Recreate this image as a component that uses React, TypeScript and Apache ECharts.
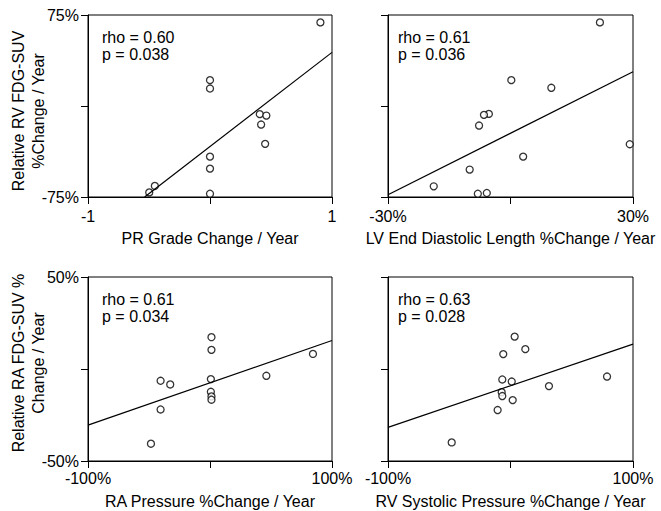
import React, { useEffect, useRef } from "react";
import * as echarts from "echarts";

// Panel A: PR grade change vs relative RV FDG-SUV change
const prGrade = [0.905, 0, 0, 0, 0, 0, -0.452, -0.498, 0.408, 0.462, 0.419, 0.452];
const rvSuvA = [68.9, 21.3, 14.4, -41.7, -51.6, -72.3, -65.9, -71.2, -6.7, -7.9, -15.3, -31.2];
const fitA = [[-0.536, -75], [1, 44.2]];

// Panel B: LV end diastolic length change vs relative RV FDG-SUV change
const lvLength = [21.9, 0.2, 10.0, -5.3, -6.5, -7.7, 29.2, 3.1, -10, -18.8, -8.0, -5.8];
const rvSuvB = [68.9, 21.3, 15.0, -6.5, -7.3, -16.1, -31.5, -41.7, -52.4, -66.2, -72.3, -71.7];
const fitB = [[-30, -73.1], [30, 28.2]];

// Panel C: RA pressure change vs relative RA FDG-SUV change
const raPressure = [1.2, 1.2, 0.7, 0.7, 1.2, 1.2, -40.5, -32.6, -40.5, -48.4, 46.2, 84.4];
const raSuvC = [17.3, 10.4, -5.5, -12.4, -14.9, -16.7, -6.4, -8.4, -22.0, -40.6, -3.7, 8.2];
const fitC = [[-100, -30.5], [100, 15.5]];

// Panel D: RV systolic pressure change vs relative RA FDG-SUV change
const rvSys = [3.4, 12.1, -5.9, -6.7, 1.0, -7.2, -6.7, 1.8, -10.5, -48.0, 31.4, 78.8];
const raSuvD = [17.6, 10.8, 8.1, -5.7, -6.8, -12.6, -14.7, -16.9, -22.3, -39.9, -9.3, -4.1];
const fitD = [[-100, -31.7], [100, 13.5]];

const rhoValues = ["0.60", "0.61", "0.61", "0.63"];
const pValues = ["0.038", "0.036", "0.034", "0.028"];

const xTitles = [
  "PR Grade Change / Year",
  "LV End Diastolic Length %Change / Year",
  "RA Pressure %Change / Year",
  "RV Systolic Pressure %Change / Year",
];
const yTitles = ["Relative RV FDG-SUV\n%Change / Year", "Relative RA FDG-SUV %\nChange / Year"];

const xRanges = [[-1, 1], [-30, 30], [-100, 100], [-100, 100]];
const yRanges = [[-75, 75], [-75, 75], [-50, 50], [-50, 50]];
const xUnits = ["", "%", "%", "%"];
const showYLabels = [true, false, true, false];

const FONT = '"Liberation Sans", Arial, sans-serif';

export default function App() {
  const ref = useRef<HTMLDivElement>(null);
  useEffect(() => {
    if (!ref.current) return;
    const chart = echarts.init(ref.current, null, { renderer: "svg" });

    const grids = [
      { left: 88, top: 15, width: 244, height: 182 },
      { left: 388, top: 15, width: 245, height: 182 },
      { left: 88, top: 277, width: 244, height: 184 },
      { left: 388, top: 277, width: 245, height: 184 },
    ].map((g) => ({ ...g, show: true, borderColor: "#000", borderWidth: 1, backgroundColor: "transparent" }));

    const points = [
      prGrade.map((x, i) => [x, rvSuvA[i]]),
      lvLength.map((x, i) => [x, rvSuvB[i]]),
      raPressure.map((x, i) => [x, raSuvC[i]]),
      rvSys.map((x, i) => [x, raSuvD[i]]),
    ];
    const fits = [fitA, fitB, fitC, fitD];

    const xAxis = xRanges.map(([min, max], i) => ({
      gridIndex: i,
      type: "value",
      min,
      max,
      interval: (max - min) / 2,
      axisLine: { show: true, onZero: false, lineStyle: { color: "#000", width: 1 } },
      axisTick: { show: true, inside: false, length: 7, lineStyle: { color: "#000", width: 1 } },
      splitLine: { show: false },
      axisLabel: {
        show: true,
        showMinLabel: true,
        showMaxLabel: true,
        margin: i < 2 ? 11 : 9,
        color: "#000",
        fontSize: 16,
        fontFamily: FONT,
        formatter: (v: number) => (v === min || v === max ? `${v}${xUnits[i]}` : ""),
      },
      name: xTitles[i],
      nameLocation: "middle",
      nameGap: i < 2 ? 33 : 32,
      nameTextStyle: { color: "#000", fontSize: 16, fontFamily: FONT },
    }));

    const yAxis = yRanges.map(([min, max], i) => ({
      gridIndex: i,
      type: "value",
      min,
      max,
      interval: (max - min) / 2,
      axisLine: { show: true, onZero: false, lineStyle: { color: "#000", width: 1 } },
      axisTick: { show: true, inside: false, length: 7, lineStyle: { color: "#000", width: 1 } },
      splitLine: { show: false },
      axisLabel: {
        show: showYLabels[i],
        showMinLabel: true,
        showMaxLabel: true,
        margin: 9,
        color: "#000",
        fontSize: 16,
        fontFamily: FONT,
        formatter: (v: number) => (v === min || v === max ? `${v}%` : ""),
      },
    }));

    const series: any[] = [];
    points.forEach((pts, i) => {
      series.push({
        type: "line",
        xAxisIndex: i,
        yAxisIndex: i,
        data: fits[i],
        showSymbol: false,
        symbol: "none",
        lineStyle: { color: "#000", width: 1.2 },
        silent: true,
      });
      series.push({
        type: "scatter",
        xAxisIndex: i,
        yAxisIndex: i,
        data: pts,
        symbol: "circle",
        symbolSize: 7,
        itemStyle: { color: "#fff", borderColor: "#000", borderWidth: 1.3 },
      });
    });

    const annoPos = [
      [102, 29],
      [398, 29],
      [102, 291],
      [398, 291],
    ];
    const graphic: any[] = annoPos.map(([x, y], i) => ({
      type: "text",
      x,
      y,
      style: {
        text: `rho = ${rhoValues[i]}\np = ${pValues[i]}`,
        font: `16px ${FONT}`,
        fill: "#000",
        align: "left",
        verticalAlign: "top",
        lineHeight: 17,
      },
    }));
    [
      [28, 111],
      [28, 363],
    ].forEach(([x, y], i) => {
      graphic.push({
        type: "text",
        x,
        y,
        rotation: Math.PI / 2,
        style: {
          text: yTitles[i],
          font: `16px ${FONT}`,
          fill: "#000",
          align: "center",
          verticalAlign: "middle",
          lineHeight: 20,
        },
      });
    });

    chart.setOption({
      animation: false,
      backgroundColor: "#fff",
      grid: grids,
      xAxis,
      yAxis,
      series,
      graphic,
    });
    return () => chart.dispose();
  }, []);
  return (
    <div
      ref={ref}
      style={{ position: "absolute", left: 0, top: 0, width: 661, height: 511 }}
    />
  );
}
